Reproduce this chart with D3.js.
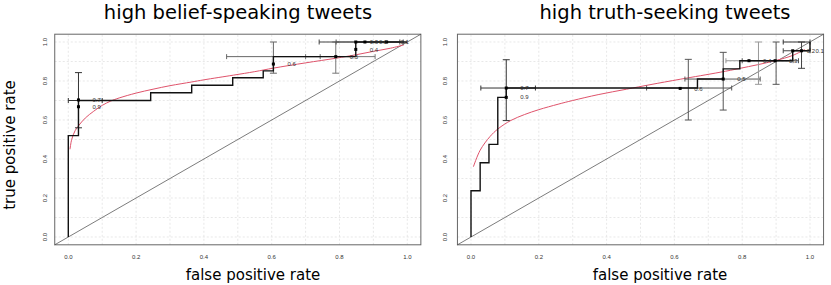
<!DOCTYPE html>
<html>
<head>
<meta charset="utf-8">
<script src="https://cdn.jsdelivr.net/npm/d3@7"></script>
<style>
  body { margin: 0; background: #fff; }
  svg { display: block; }
</style>
</head>
<body>
<script>
let w = 831;
let h = 285;

// panel titles
let titles = ["high belief-speaking tweets", "high truth-seeking tweets"];
let ticks = [0, 0.2, 0.4, 0.6, 0.8, 1.0];
let gridSteps = [0, 0.1, 0.2, 0.3, 0.4, 0.5, 0.6, 0.7, 0.8, 0.9, 1.0];

// left panel: empirical ROC steps [fpr, tpr]
let beliefSteps = [[0, 0], [0, 0.52], [0.03, 0.52], [0.03, 0.70], [0.243, 0.70], [0.243, 0.74],
  [0.364, 0.74], [0.364, 0.778], [0.485, 0.778], [0.485, 0.817], [0.575, 0.817], [0.575, 0.852],
  [0.605, 0.852], [0.605, 0.925], [0.848, 0.925], [0.848, 1.0], [1.0, 1.0]];
// smoothed ROC (red)
let beliefSmooth = [[0.005, 0.45], [0.01, 0.50], [0.02, 0.545], [0.03, 0.57], [0.05, 0.61],
  [0.075, 0.645], [0.1, 0.675], [0.125, 0.697], [0.15, 0.713], [0.2, 0.738], [0.25, 0.758],
  [0.3, 0.776], [0.364, 0.795], [0.4, 0.806], [0.487, 0.83], [0.55, 0.848], [0.605, 0.866],
  [0.7, 0.893], [0.79, 0.917], [0.85, 0.935], [0.9, 0.952], [0.95, 0.968], [0.99, 0.985]];
// threshold points [fpr, tpr, label]
let beliefThres = [[0.03, 0.703, "0.7"], [0.03, 0.668, "0.9"], [0.605, 0.887, "0.6"],
  [0.789, 0.925, "0.5"], [0.848, 0.962, "0.4"], [0.848, 1.0, "0.3"], [0.875, 1.0, "0.2"],
  [0.939, 1.0, "0.1"]];
// CI crosses [fpr, tpr, fprLo, fprHi, tprLo, tprHi, shade]
let beliefCI = [[0.03, 0.70, 0.0, 0.10, 0.56, 0.843, "#333"],
  [0.605, 0.925, 0.467, 0.743, 0.84, 1.0, "#666"],
  [0.789, 0.925, 0.70, 0.905, 0.84, 1.0, "#777"],
  [0.848, 1.0, 0.74, 0.978, 1.0, 1.0, "#444"],
  [0.875, 1.0, 0.79, 0.988, 1.0, 1.0, "#555"]];

// right panel
let truthSteps = [[0, 0], [0, 0.237], [0.027, 0.237], [0.027, 0.381], [0.053, 0.381], [0.053, 0.475],
  [0.079, 0.475], [0.079, 0.716], [0.104, 0.716], [0.104, 0.764], [0.668, 0.764], [0.668, 0.81],
  [0.744, 0.81], [0.744, 0.862], [0.793, 0.862], [0.793, 0.904], [0.949, 0.904], [0.949, 0.955],
  [1.0, 0.955], [1.0, 1.0]];
let truthSmooth = [[0.007, 0.36], [0.027, 0.445], [0.056, 0.515], [0.08, 0.555], [0.118, 0.598],
  [0.158, 0.628], [0.2, 0.653], [0.257, 0.681], [0.3, 0.70], [0.375, 0.73], [0.459, 0.758],
  [0.528, 0.781], [0.617, 0.809], [0.735, 0.845], [0.794, 0.865], [0.897, 0.904], [0.95, 0.932],
  [0.985, 0.962]];
let truthThres = [[0.104, 0.764, "0.7"], [0.104, 0.716, "0.9"], [0.617, 0.762, "0.6"],
  [0.744, 0.81, "0.5"], [0.82, 0.904, "0.4"], [0.897, 0.904, "0.3"], [0.949, 0.955, "0.2"],
  [0.975, 0.955, "0.1"]];
let truthCI = [[0.104, 0.764, 0.029, 0.19, 0.597, 0.909, "#333"],
  [0.641, 0.764, 0.518, 0.769, 0.60, 0.911, "#555"],
  [0.744, 0.81, 0.631, 0.853, 0.651, 0.947, "#555"],
  [0.848, 0.904, 0.752, 0.95, 0.783, 1.0, "#999"],
  [0.9, 0.904, 0.80, 0.966, 0.783, 1.0, "#555"],
  [0.975, 0.955, 0.921, 1.0, 0.865, 1.0, "#444"],
  [0.975, 1.0, 0.921, 1.0, 1.0, 1.0, "#333"]];

let svg = d3.select("body")
            .append("svg")
            .attr("width", w)
            .attr("height", h);

let y = d3.scaleLinear().domain([0, 1]).range([237, 42]);
let smallFont = "6px 'Liberation Sans', Arial, sans-serif";

function drawPanel(x0, steps, smooth, thres, ci, title, titleX, xlabX, ylabX) {
  let x = d3.scaleLinear().domain([0, 1]).range([x0, x0 + 339]);
  let g = svg.append("g");

  //grid
  g.selectAll(".vg").data(gridSteps).enter().append("line")
   .attr("x1", d => x(d)).attr("x2", d => x(d))
   .attr("y1", y(-0.04)).attr("y2", y(1.04))
   .attr("stroke", "#dedede").attr("stroke-width", 0.7).attr("stroke-dasharray", "2,2");
  g.selectAll(".hg").data(gridSteps).enter().append("line")
   .attr("x1", x(-0.04)).attr("x2", x(1.04))
   .attr("y1", d => y(d)).attr("y2", d => y(d))
   .attr("stroke", "#dedede").attr("stroke-width", 0.7).attr("stroke-dasharray", "2,2");

  //frame
  g.append("rect")
   .attr("x", x(-0.04)).attr("y", y(1.04))
   .attr("width", x(1.04) - x(-0.04)).attr("height", y(-0.04) - y(1.04))
   .attr("fill", "none").attr("stroke", "#666").attr("stroke-width", 1);

  //chance diagonal
  g.append("line")
   .attr("x1", x(-0.04)).attr("y1", y(-0.04))
   .attr("x2", x(1.04)).attr("y2", y(1.04))
   .attr("stroke", "#444").attr("stroke-width", 0.7);

  //tick labels
  g.selectAll(".xt").data(ticks).enter().append("text")
   .attr("x", d => x(d)).attr("y", 259)
   .attr("text-anchor", "middle")
   .style("font", smallFont).style("fill", "#333")
   .text(d3.format(".1f"));
  g.selectAll(".yt").data(ticks).enter().append("text")
   .attr("transform", d => "translate(" + ylabX + "," + y(d) + ") rotate(-90)")
   .attr("text-anchor", "middle").attr("dy", "0.35em")
   .style("font", smallFont).style("fill", "#333")
   .text(d3.format(".1f"));

  //smoothed curve
  g.append("path")
   .datum(smooth)
   .attr("d", d3.line().x(d => x(d[0])).y(d => y(d[1])).curve(d3.curveCatmullRom))
   .attr("fill", "none").attr("stroke", "#DF536B").attr("stroke-width", 1);

  //confidence crosses
  ci.forEach(c => {
    let cg = g.append("g").attr("stroke", c[6]).attr("stroke-width", 1);
    cg.append("line").attr("x1", x(c[2])).attr("x2", x(c[3])).attr("y1", y(c[1])).attr("y2", y(c[1]));
    cg.append("line").attr("x1", x(c[0])).attr("x2", x(c[0])).attr("y1", y(c[4])).attr("y2", y(c[5]));
    if (c[4] < c[5]) {
      cg.append("line").attr("x1", x(c[0]) - 3.5).attr("x2", x(c[0]) + 3.5).attr("y1", y(c[4])).attr("y2", y(c[4]));
      cg.append("line").attr("x1", x(c[0]) - 3.5).attr("x2", x(c[0]) + 3.5).attr("y1", y(c[5])).attr("y2", y(c[5]));
    }
    cg.append("line").attr("x1", x(c[2])).attr("x2", x(c[2])).attr("y1", y(c[1]) - 2.5).attr("y2", y(c[1]) + 2.5);
    cg.append("line").attr("x1", x(c[3])).attr("x2", x(c[3])).attr("y1", y(c[1]) - 2.5).attr("y2", y(c[1]) + 2.5);
  });

  //empirical roc
  g.append("path")
   .datum(steps)
   .attr("d", d3.line().x(d => x(d[0])).y(d => y(d[1])))
   .attr("fill", "none").attr("stroke", "#111").attr("stroke-width", 1.4);

  //thresholds
  g.selectAll(".pt").data(thres).enter().append("rect")
   .attr("x", d => x(d[0]) - 1.5).attr("y", d => y(d[1]) - 1.5)
   .attr("width", 3).attr("height", 3).attr("fill", "#000");
  g.selectAll(".pl").data(thres).enter().append("text")
   .attr("x", d => x(d[0]) + 14).attr("y", d => y(d[1]))
   .attr("dy", "0.35em")
   .style("font", smallFont).style("fill", "#333")
   .text(d => d[2]);

  //titles and axis label
  svg.append("text")
     .attr("x", titleX).attr("y", 19)
     .attr("text-anchor", "middle")
     .style("font", "19.5px 'DejaVu Sans', sans-serif").style("fill", "#000")
     .text(title);
  svg.append("text")
     .attr("x", xlabX).attr("y", 280)
     .attr("text-anchor", "middle")
     .style("font", "15px 'DejaVu Sans', sans-serif").style("fill", "#000")
     .text("false positive rate");
}

drawPanel(68.3, beliefSteps, beliefSmooth, beliefThres, beliefCI, titles[0], 238, 253, 45);
drawPanel(471, truthSteps, truthSmooth, truthThres, truthCI, titles[1], 665, 660, 445);

svg.append("text")
   .attr("transform", "translate(15,145) rotate(-90)")
   .attr("text-anchor", "middle")
   .style("font", "15px 'DejaVu Sans', sans-serif").style("fill", "#000")
   .text("true positive rate");
</script>
</body>
</html>
